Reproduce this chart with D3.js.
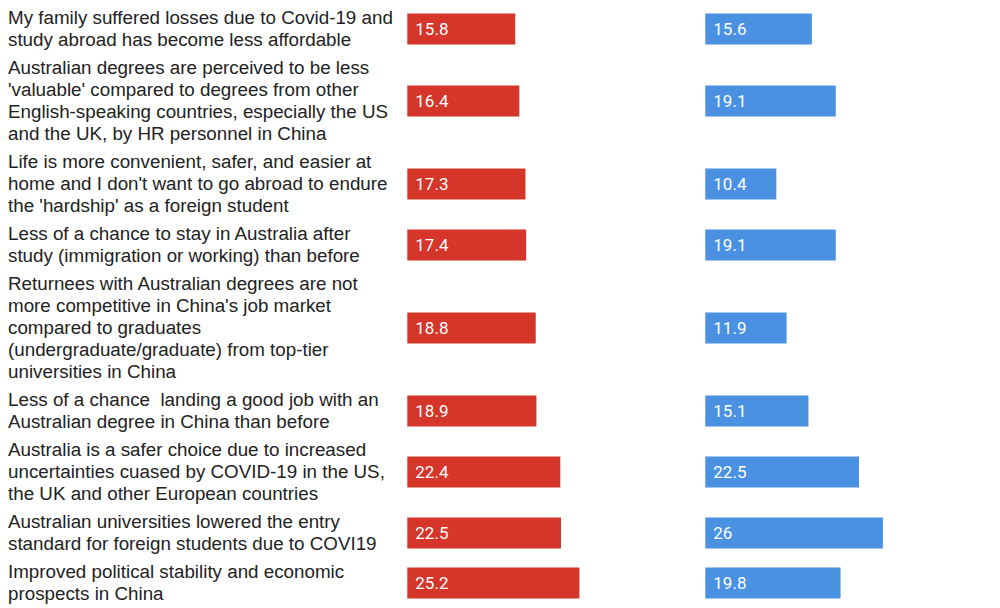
<!DOCTYPE html>
<html>
<head>
<meta charset="utf-8">
<script src="https://cdn.jsdelivr.net/npm/d3@7"></script>
<style>
  html, body { margin: 0; padding: 0; background: #fff; }
  svg { display: block; }
  text { white-space: pre; }
</style>
</head>
<body>
<svg id="chart" width="1000" height="608"></svg>
<script>
const categories = [
  "My family suffered losses due to Covid-19 and\nstudy abroad has become less affordable",
  "Australian degrees are perceived to be less\n'valuable' compared to degrees from other\nEnglish-speaking countries, especially the US\nand the UK, by HR personnel in China",
  "Life is more convenient, safer, and easier at\nhome and I don't want to go abroad to endure\nthe 'hardship' as a foreign student",
  "Less of a chance to stay in Australia after\nstudy (immigration or working) than before",
  "Returnees with Australian degrees are not\nmore competitive in China's job market\ncompared to graduates\n(undergraduate/graduate) from top-tier\nuniversities in China",
  "Less of a chance  landing a good job with an\nAustralian degree in China than before",
  "Australia is a safer choice due to increased\nuncertainties cuased by COVID-19 in the US,\nthe UK and other European countries",
  "Australian universities lowered the entry\nstandard for foreign students due to COVI19",
  "Improved political stability and economic\nprospects in China"
];
const seriesRed = [15.8, 16.4, 17.3, 17.4, 18.8, 18.9, 22.4, 22.5, 25.2];
const seriesBlue = [15.6, 19.1, 10.4, 19.1, 11.9, 15.1, 22.5, 26, 19.8];
const xMax = 26;

(function () {
const svg = d3.select("#chart");
const lineH = 22, gap = 6, topY = 7, barH = 31;

const rows = categories.map((c, i) => ({ lines: c.split("\n"), red: seriesRed[i], blue: seriesBlue[i] }));
let acc = topY;
rows.forEach(r => { r.y0 = acc; r.h = r.lines.length * lineH; acc += r.h + gap; r.cy = r.y0 + r.h / 2; });

const x = d3.scaleLinear().domain([0, xMax]).range([0, 177.6]);
const redX0 = 407.3, blueX0 = 705.3;
const redColor = "#d6352a", blueColor = "#4a91e2";
const labelFont = "'Liberation Sans', Arial, Helvetica, sans-serif";
const valueFont = "Roboto, 'Liberation Sans', Arial, sans-serif";

const g = svg.append("g");
const row = g.selectAll("g.row").data(rows).join("g").attr("class", "row");

row.each(function (r) {
  const t = d3.select(this).append("text")
    .attr("font-family", labelFont).attr("font-size", 18.8).attr("fill", "#222");
  t.selectAll("tspan").data(r.lines).join("tspan")
    .attr("x", 8)
    .attr("y", (d, j) => r.y0 + j * lineH + lineH / 2)
    .attr("dy", "0.31em")
    .text(d => d);
});

row.append("rect").attr("x", redX0).attr("y", r => r.cy - barH / 2)
  .attr("width", r => x(r.red)).attr("height", barH).attr("fill", redColor);
row.append("rect").attr("x", blueX0).attr("y", r => r.cy - barH / 2)
  .attr("width", r => x(r.blue)).attr("height", barH).attr("fill", blueColor);

row.append("text").attr("x", redX0 + 8).attr("y", r => r.cy).attr("dy", "0.36em")
  .attr("font-family", valueFont).attr("font-size", 17).attr("fill", "#fff").text(r => r.red);
row.append("text").attr("x", blueX0 + 8).attr("y", r => r.cy).attr("dy", "0.36em")
  .attr("font-family", valueFont).attr("font-size", 17).attr("fill", "#fff").text(r => r.blue);
})();
</script>
</body>
</html>
